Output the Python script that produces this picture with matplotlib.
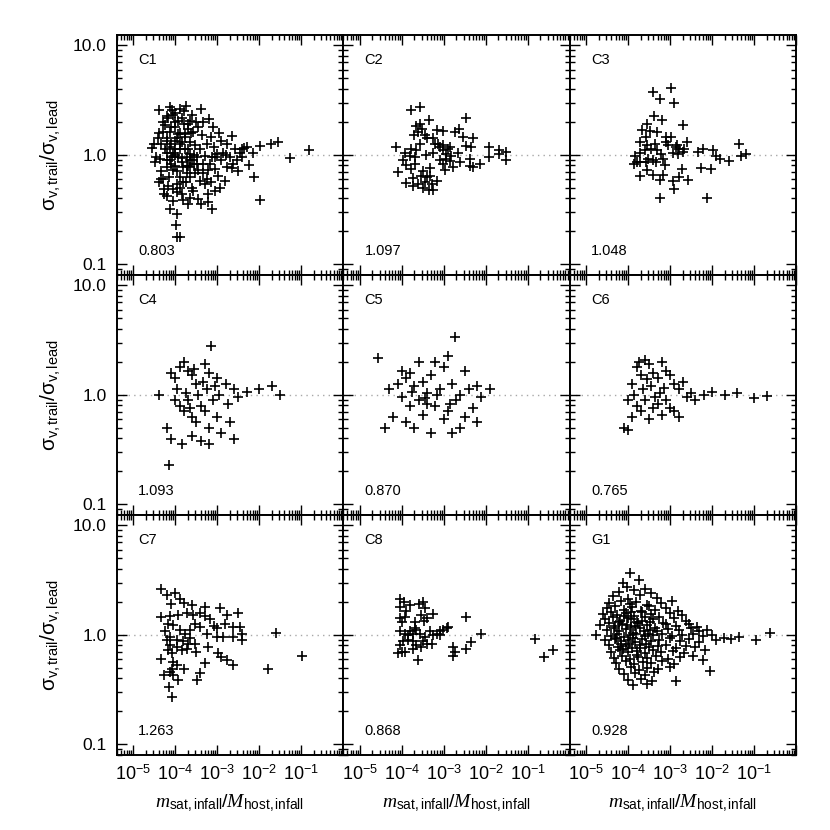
import numpy as np
import matplotlib.pyplot as plt
from matplotlib.ticker import FixedLocator, FixedFormatter, LogLocator, NullFormatter

# log10 values
c1_logx = [-4.38, -4.13, -4.06, -3.89, -3.75, -3.40, -3.20, -3.65, -4.25, -3.85, -3.71, -3.57, -3.37, -3.16,
           -2.66, -2.36, -2.14, -1.97, -1.73, -1.56, -1.26, -0.81, -2.24, -2.13, -1.97, -3.13, -3.21, -3.45,
           -3.81, -4.12, -3.95, -3.99, -3.95, -3.89, -4.56, -4.52, -4.41, -4.48, -4.37, -4.29, -4.33, -4.27,
           -4.27, -4.05, -3.97, -3.85, -3.57, -3.65, -3.29, -3.21, -3.05, -2.94, -2.82, -2.98, -3.05, -3.17,
           -3.33, -3.45, -3.65, -3.73, -3.81, -3.93, -4.05, -4.13, -4.21, -4.29, -4.13, -4.01, -3.93, -3.77,
           -3.65, -3.53, -3.41, -3.25, -3.09, -3.01, -2.86, -2.70, -2.54, -2.42, -2.46, -2.58, -2.78, -2.90,
           -3.13, -3.29, -3.49, -3.65, -3.77, -3.89, -4.01, -4.13, -4.21, -4.05, -3.89, -3.81, -3.97, -4.17,
           -3.65, -3.49, -3.33, -3.21, -2.90, -2.78, -2.62, -2.42, -2.30, -3.65, -3.73, -4.33, -4.21, -4.09,
           -4.01, -3.85, -3.73, -3.53, -3.41, -3.25, -3.89, -3.77, -4.17, -3.93, -4.09,
           -4.00, -3.85, -4.10, -3.95, -3.70, -3.60, -4.20, -3.80, -4.00, -3.55,
           -4.20, -4.00, -3.80, -3.60, -4.30, -4.10, -3.90, -3.70, -3.50, -4.40, -4.20, -4.00, -3.85,
           -3.62, -3.45, -4.45, -4.25, -4.10, -3.95, -3.70, -3.55, -4.35, -4.15, -3.90, -3.75, -3.60,
           -4.40, -4.20, -4.05, -3.70, -3.40, -3.15, -3.05, -3.35, -3.10, -2.95, -2.80, -2.65, -2.50]
c1_logy = [0.41, 0.44, 0.36, 0.42, 0.45, 0.42, 0.33, 0.31, 0.27, 0.34, 0.24, 0.21, 0.18, 0.16,
           0.17, 0.06, 0.02, 0.08, 0.10, 0.12, -0.03, 0.04, -0.09, -0.20, -0.41, -0.49, -0.43, -0.40,
           -0.41, -0.49, -0.54, -0.64, -0.75, -0.75, 0.06, 0.10, 0.15, -0.07, -0.04, -0.22, -0.22, -0.31,
           -0.36, -0.31, -0.34, -0.36, -0.33, -0.39, -0.27, -0.36, -0.33, -0.30, -0.24, -0.19, -0.13, -0.08,
           -0.17, -0.14, -0.20, -0.17, -0.11, -0.02, 0.02, 0.07, 0.13, 0.21, 0.21, 0.25, 0.19, 0.16,
           0.12, 0.09, 0.05, 0.10, 0.07, 0.01, 0.02, -0.02, -0.05, -0.02, 0.02, 0.05, 0.10, 0.13,
           -0.02, -0.01, -0.02, 0.01, 0.05, 0.10, 0.13, -0.05, -0.11, -0.14, -0.20, -0.25, -0.27, -0.28,
           -0.11, -0.08, -0.08, -0.14, -0.05, -0.11, -0.08, 0.05, 0.07, -0.05, -0.02, 0.10, 0.02, -0.02,
           -0.10, -0.07, -0.10, -0.17, -0.24, -0.22, 0.05, 0.19, 0.34, 0.31, 0.41,
           0.00, -0.03, 0.10, 0.15, 0.05, -0.05, -0.05, 0.28, 0.30, 0.00,
           0.35, 0.38, 0.40, 0.36, 0.30, 0.25, 0.20, 0.28, 0.30, 0.20, 0.15, 0.05, 0.12,
           0.20, 0.25, -0.02, 0.05, -0.08, -0.15, -0.10, -0.08, -0.15, -0.20, -0.30, -0.25, -0.30,
           -0.25, -0.38, -0.42, -0.45, -0.45, -0.25, -0.02, 0.30, 0.25, 0.20, 0.00, -0.12, -0.15]

c2_logx = [-4.14, -3.79, -3.56, -3.35, -2.46, -3.65, -3.56, -3.52, -3.61, -3.45, -3.71, -3.57, -3.41, -3.25,
           -3.17, -3.02, -2.74, -2.63, -2.54, -2.30, -2.46, -2.34, -1.93, -1.93, -1.67, -1.52, -1.51, -1.67,
           -2.14, -2.38, -2.38, -2.30, -2.62, -2.78, -2.98, -3.02, -2.86, -2.94, -3.02, -3.09, -3.13, -3.02,
           -2.90, -2.86, -2.66, -2.82, -3.21, -3.25, -3.43, -3.65, -3.77, -3.93, -3.81, -3.69, -3.97, -3.89,
           -3.77, -4.09, -3.69, -3.49, -3.53, -3.33, -3.41, -3.73, -3.89, -3.73, -3.61, -3.45, -3.49, -3.35,
           -3.25, -3.15, -3.32, -3.29, -3.08, -2.94]
c2_logy = [0.07, 0.41, 0.44, 0.32, 0.34, 0.26, 0.28, 0.24, 0.21, 0.18, 0.18, 0.10, 0.15, 0.15,
           0.23, 0.22, 0.21, 0.24, 0.16, 0.15, 0.08, 0.07, 0.07, -0.02, 0.04, 0.03, -0.05, 0.01,
           -0.08, -0.04, -0.10, -0.11, -0.07, -0.11, -0.14, -0.08, -0.06, 0.01, 0.04, 0.07, 0.10, 0.09,
           0.05, 0.07, 0.02, -0.01, 0.10, 0.02, 0.00, 0.04, 0.05, 0.02, -0.01, -0.02, -0.05, -0.09,
           -0.13, -0.16, -0.08, -0.15, -0.19, -0.12, -0.20, -0.21, -0.26, -0.28, -0.27, -0.25, -0.30, -0.32,
           -0.32, -0.24, -0.19, -0.27, -0.05, -0.04]

c3_logx = [-2.99, -3.41, -3.23, -2.91, -3.39, -3.20, -2.70, -3.55, -3.67, -3.48, -3.32, -3.57, -3.71, -3.11,
           -2.98, -3.11, -2.60, -3.55, -3.35, -3.06, -2.83, -2.66, -2.92, -2.82, -2.70, -2.34, -2.22, -1.97,
           -1.90, -1.82, -1.60, -1.35, -1.32, -1.20, -3.83, -3.71, -3.61, -3.45, -3.32, -3.21, -3.52, -3.41,
           -3.17, -3.79, -3.85, -3.73, -3.57, -3.33, -3.13, -3.56, -3.73, -3.40, -3.17, -3.25, -2.94, -2.80,
           -2.58, -2.72, -2.26, -2.02, -2.91, -3.23, -2.12, -2.86, -2.78]
c3_logy = [0.61, 0.57, 0.51, 0.47, 0.35, 0.32, 0.27, 0.28, 0.23, 0.22, 0.21, 0.16, 0.12, 0.16,
           0.16, 0.12, 0.12, 0.09, 0.10, 0.09, 0.09, 0.05, 0.02, 0.01, 0.03, 0.03, 0.05, 0.04,
           -0.01, -0.04, -0.06, 0.10, -0.01, 0.01, -0.01, 0.02, 0.04, 0.05, 0.04, 0.01, -0.04, -0.05,
           -0.04, -0.07, -0.08, -0.07, -0.07, -0.07, -0.09, -0.14, -0.19, -0.18, -0.18, -0.23, -0.24, -0.20,
           -0.23, -0.13, -0.12, -0.13, -0.31, -0.39, -0.39, 0.07, 0.05]

c4_logx = [-4.40, -4.10, -4.00, -3.90, -3.80, -3.70, -3.60, -3.50, -3.15, -3.30, -3.20, -3.00, -2.80, -2.60,
           -2.50, -2.30, -2.00, -1.70, -1.50, -4.00, -3.90, -3.80, -3.70, -3.60, -3.50, -3.40, -3.30, -3.20,
           -3.10, -3.00, -2.90, -2.70, -2.60, -4.20, -4.10, -4.15, -3.85, -3.60, -3.40, -3.20, -3.95, -3.75,
           -3.45, -3.25, -2.95, -2.75, -3.55, -3.35, -3.65, -3.05]
c4_logy = [0.00, 0.20, 0.15, 0.25, 0.30, 0.22, 0.18, 0.10, 0.45, 0.28, 0.20, 0.15, 0.10, 0.05,
           -0.02, 0.03, 0.05, 0.08, 0.00, -0.05, -0.10, -0.15, -0.05, -0.20, -0.25, -0.10, -0.15, -0.30,
           -0.05, -0.20, -0.35, -0.25, -0.40, -0.30, -0.40, -0.64, -0.45, -0.38, -0.42, -0.45, 0.05, 0.02,
           0.00, 0.05, 0.00, -0.08, 0.24, 0.12, -0.12, 0.08]

c5_logx = [-4.57, -2.73, -4.30, -4.10, -4.00, -3.90, -3.80, -3.70, -3.60, -3.50, -3.40, -3.30, -3.20, -3.10,
           -3.00, -2.90, -2.80, -2.70, -2.60, -2.50, -2.40, -2.30, -2.20, -2.10, -4.40, -4.20, -3.90, -3.70,
           -3.50, -3.30, -3.00, -2.80, -2.60, -3.60, -3.20, -2.90, -2.50, -4.00, -3.80, -3.40, -2.20, -1.90,
           -3.45, -3.15, -2.85, -3.75]
c5_logy = [0.34, 0.53, 0.05, 0.10, -0.02, 0.15, 0.20, 0.08, -0.05, 0.12, 0.02, 0.18, -0.10, 0.05,
           0.25, -0.15, 0.10, -0.05, 0.00, -0.20, 0.05, -0.12, 0.08, -0.02, -0.30, -0.20, -0.25, -0.30,
           -0.18, -0.35, -0.22, -0.35, -0.30, 0.30, 0.30, 0.35, 0.22, 0.22, -0.10, -0.08, -0.25, 0.05,
           -0.03, 0.00, -0.08, 0.03]

c6_logx = [-4.00, -3.90, -3.80, -3.75, -3.60, -3.50, -3.40, -3.30, -3.20, -3.10, -3.00, -2.90, -2.80, -2.70,
           -2.60, -2.50, -2.40, -2.20, -2.00, -1.70, -1.40, -1.00, -0.70, -4.10, -4.00, -3.90, -3.80, -3.70,
           -3.60, -3.50, -3.40, -3.30, -3.20, -3.10, -3.00, -2.90, -2.80, -3.65, -3.45, -3.25, -3.85,
           -3.55, -3.35, -3.15, -3.70]
c6_logy = [-0.05, 0.10, 0.25, 0.30, 0.32, 0.28, 0.20, 0.15, 0.30, 0.22, 0.18, 0.10, 0.05, 0.12,
           -0.02, 0.02, -0.05, 0.00, 0.03, 0.00, 0.02, -0.03, -0.01, -0.30, -0.32, -0.20, -0.10, -0.15,
           -0.05, -0.22, -0.12, -0.08, -0.18, -0.05, -0.12, -0.15, -0.20, 0.05, 0.08, 0.02, 0.00,
           0.14, -0.02, 0.06, 0.18]

c7_logx = [-4.33, -4.13, -3.93, -3.73, -3.57, -3.41, -3.29, -3.17, -2.94, -2.78, -2.50, -2.82, -3.09, -3.01,
           -2.62, -2.46, -2.42, -2.42, -2.62, -2.86, -3.01, -3.25, -3.41, -3.53, -3.65, -3.77, -3.89, -4.05,
           -4.17, -4.25, -4.13, -3.97, -3.81, -3.69, -3.85, -3.97, -4.13, -4.21, -4.33, -4.05, -3.95, -4.09,
           -4.13, -4.27, -4.06, -3.79, -3.93, -4.15, -4.07, -3.51, -3.29, -3.41, -3.49, -3.21, -2.98, -2.90,
           -2.78, -2.62, -1.78, -1.61, -0.99, -3.53, -3.65, -4.17, -4.09, -3.73,
           -4.35, -4.20, -4.00, -3.90, -3.80, -4.10, -3.60, -3.30]
c7_logy = [0.16, 0.17, 0.18, 0.20, 0.18, 0.20, 0.17, 0.14, 0.24, 0.18, 0.20, 0.10, 0.08, 0.06,
           0.07, 0.07, 0.01, -0.05, -0.02, -0.02, -0.02, 0.01, 0.07, 0.10, 0.04, 0.01, 0.04, 0.09,
           0.10, 0.03, -0.02, -0.05, -0.06, -0.08, -0.14, -0.11, -0.09, -0.05, -0.22, -0.25, -0.28, -0.31,
           -0.34, -0.37, -0.37, -0.31, -0.41, -0.48, -0.57, -0.16, -0.26, -0.35, -0.41, -0.11, -0.17, -0.20,
           -0.23, -0.28, -0.31, 0.02, -0.19, -0.08, -0.03, -0.14, -0.17, -0.13,
           0.42, 0.36, 0.38, 0.33, 0.29, 0.28, 0.27, 0.25]

c8_logx = [-4.04, -4.00, -3.93, -3.69, -3.53, -3.50, -3.47, -3.39, -3.25, -3.69, -4.04, -3.93, -3.85, -3.81,
           -3.73, -3.65, -3.57, -3.45, -3.33, -3.17, -3.09, -3.01, -2.89, -2.93, -3.09, -3.29, -3.41, -3.53,
           -3.65, -3.73, -3.85, -3.97, -4.04, -4.08, -4.00, -3.93, -3.73, -3.61, -3.49, -3.25, -2.77, -2.73,
           -2.77, -2.46, -2.34, -2.46, -2.12, -0.83, -0.61, -0.39,
           -4.05, -3.95, -4.05, -3.80, -3.60, -3.45, -3.90]
c8_logy = [0.15, 0.12, 0.16, 0.12, 0.18, 0.30, 0.13, 0.15, 0.19, 0.06, 0.03, 0.01, 0.00, 0.03,
           0.01, 0.04, 0.01, -0.02, 0.03, 0.01, 0.03, 0.04, 0.07, 0.06, 0.00, -0.08, -0.08, -0.11,
           -0.09, -0.06, -0.05, -0.06, -0.09, -0.17, -0.16, -0.16, -0.13, -0.23, -0.06, 0.00, -0.11, -0.16,
           -0.19, -0.13, -0.07, 0.16, 0.01, -0.04, -0.20, -0.14,
           0.33, 0.30, 0.25, 0.27, 0.28, 0.24, 0.22]

g1_pts = [(-3.95, 0.56), (-3.74, 0.50), (-4.12, 0.47), (-4.03, 0.44), (-3.61, 0.42),
          (-4.21, 0.39), (-3.86, 0.41), (-3.46, 0.38),
          (-4.36, 0.35), (-4.01, 0.33), (-3.71, 0.36), (-3.31, 0.34),
          (-4.46, 0.29), (-4.16, 0.31), (-3.96, 0.28), (-3.81, 0.30), (-3.56, 0.27), (-3.21, 0.29), (-2.96, 0.31),
          (-4.51, 0.24), (-4.31, 0.26), (-4.11, 0.23), (-3.91, 0.25), (-3.69, 0.22), (-3.51, 0.26), (-3.36, 0.23),
          (-3.11, 0.24), (-2.81, 0.22),
          (-4.61, 0.19), (-4.41, 0.21), (-4.26, 0.18), (-4.06, 0.20), (-3.86, 0.17), (-3.66, 0.21), (-3.46, 0.19),
          (-3.26, 0.16), (-3.01, 0.20), (-2.71, 0.18),
          (-4.56, 0.14), (-4.36, 0.16), (-4.19, 0.13), (-4.01, 0.15), (-3.79, 0.12), (-3.61, 0.16), (-3.41, 0.14),
          (-3.16, 0.11), (-2.91, 0.15), (-2.61, 0.13),
          (-4.66, 0.09), (-4.46, 0.11), (-4.31, 0.08), (-4.14, 0.10), (-3.94, 0.07), (-3.76, 0.11), (-3.56, 0.09),
          (-3.36, 0.06), (-3.09, 0.10), (-2.86, 0.08), (-2.56, 0.10), (-2.36, 0.07),
          (-4.51, 0.04), (-4.34, 0.06), (-4.21, 0.03), (-4.06, 0.05), (-3.89, 0.02), (-3.71, 0.06), (-3.49, 0.04),
          (-3.31, 0.03), (-3.06, 0.05), (-2.79, 0.04), (-2.51, 0.06), (-2.31, 0.03), (-2.11, 0.04),
          (-4.76, 0.00), (-4.41, -0.01), (-4.26, 0.01), (-4.11, -0.02), (-3.96, 0.00), (-3.81, 0.01), (-3.61, -0.01),
          (-3.41, 0.00), (-3.19, 0.01), (-2.96, -0.01), (-2.71, 0.00), (-2.46, 0.01), (-2.21, -0.01), (-2.01, 0.00),
          (-1.71, -0.03), (-1.36, -0.02), (-0.95, -0.05), (-0.62, 0.02),
          (-4.56, -0.05), (-4.31, -0.04), (-4.16, -0.06), (-4.01, -0.05), (-3.84, -0.07), (-3.66, -0.04),
          (-3.46, -0.06), (-3.26, -0.05), (-3.01, -0.03), (-2.76, -0.06), (-2.56, -0.04), (-2.31, -0.07),
          (-1.91, -0.05), (-1.56, -0.04),
          (-4.46, -0.09), (-4.24, -0.11), (-4.06, -0.10), (-3.91, -0.12), (-3.71, -0.09), (-3.51, -0.11),
          (-3.29, -0.10), (-3.11, -0.09), (-2.86, -0.12), (-2.61, -0.10), (-2.41, -0.11), (-2.16, -0.14),
          (-4.41, -0.16), (-4.19, -0.14), (-4.01, -0.16), (-3.79, -0.15), (-3.59, -0.17), (-3.41, -0.14),
          (-3.21, -0.16), (-2.94, -0.15), (-2.66, -0.17), (-2.46, -0.19),
          (-4.34, -0.21), (-4.14, -0.19), (-3.96, -0.22), (-3.76, -0.20), (-3.54, -0.21), (-3.34, -0.19),
          (-3.06, -0.22), (-2.76, -0.20), (-2.21, -0.23),
          (-4.29, -0.26), (-4.06, -0.24), (-3.86, -0.27), (-3.64, -0.25), (-3.46, -0.26), (-3.19, -0.24),
          (-2.91, -0.27),
          (-4.21, -0.31), (-3.94, -0.29), (-3.74, -0.32), (-3.56, -0.30), (-3.29, -0.31), (-3.01, -0.29),
          (-2.06, -0.33),
          (-4.09, -0.36), (-3.84, -0.35), (-3.61, -0.37), (-3.39, -0.34),
          (-4.01, -0.41), (-3.69, -0.40), (-3.44, -0.42), (-2.86, -0.42),
          (-3.89, -0.46), (-3.56, -0.45),
          (-4.23, 0.12), (-4.09, 0.17), (-3.93, 0.14), (-3.83, 0.08), (-3.68, 0.13), (-3.53, 0.01),
          (-3.98, -0.08), (-3.88, -0.03), (-4.18, -0.08), (-3.73, -0.12), (-3.63, 0.03), (-4.03, 0.09),
          (-3.78, -0.18), (-4.13, -0.13), (-3.58, -0.08), (-3.93, 0.21), (-4.28, -0.03), (-3.48, 0.12)]
g1_logx = [p[0] for p in g1_pts]
g1_logy = [p[1] for p in g1_pts]

names = ['C1', 'C2', 'C3', 'C4', 'C5', 'C6', 'C7', 'C8', 'G1']
ratios = ['0.803', '1.097', '1.048', '1.093', '0.870', '0.765', '1.263', '0.868', '0.928']
all_logx = [c1_logx, c2_logx, c3_logx, c4_logx, c5_logx, c6_logx, c7_logx, c8_logx, g1_logx]
all_logy = [c1_logy, c2_logy, c3_logy, c4_logy, c5_logy, c6_logy, c7_logy, c8_logy, g1_logy]

xticks = [1e-5, 1e-4, 1e-3, 1e-2, 1e-1, 1e0]
xticklabels = ['$10^{-5}$', '$10^{-4}$', '$10^{-3}$', '$10^{-2}$', '$10^{-1}$', '']
yticks = [0.1, 1.0, 10.0]
yticklabels = ['0.1', '1.0', '10.0']

plt.rcParams['font.family'] = 'Liberation Sans'
plt.rcParams['mathtext.fontset'] = 'custom'
plt.rcParams['mathtext.rm'] = 'Liberation Sans'
plt.rcParams['mathtext.it'] = 'Liberation Serif:italic'
plt.rcParams['mathtext.bf'] = 'Liberation Sans:bold'

fig, axes = plt.subplots(3, 3, figsize=(8.3, 8.3), dpi=100, sharex=True, sharey=True)
fig.subplots_adjust(left=0.1406, right=0.959, top=0.9578, bottom=0.0904, wspace=0, hspace=0)

for i, ax in enumerate(axes.flat):
    ax.set_xscale('log')
    ax.set_yscale('log')
    ax.axhline(1.0, color='#a8a8a8', ls=(0, (1, 3)), lw=1.0, zorder=1)
    ax.plot(10 ** np.array(all_logx[i]), 10 ** np.array(all_logy[i]), '+', color='black',
            ms=7, mew=1.2, zorder=3)
    ax.set_xlim(4e-6, 1.0)
    ax.set_ylim(0.08, 12.4)

    ax.xaxis.set_major_locator(FixedLocator(xticks))
    ax.xaxis.set_major_formatter(FixedFormatter(xticklabels))
    ax.xaxis.set_minor_locator(LogLocator(base=10, subs=np.arange(2, 10), numticks=20))
    ax.xaxis.set_minor_formatter(NullFormatter())
    ax.yaxis.set_major_locator(FixedLocator(yticks))
    ax.yaxis.set_major_formatter(FixedFormatter(yticklabels))
    ax.yaxis.set_minor_locator(LogLocator(base=10, subs=np.arange(2, 10), numticks=20))
    ax.yaxis.set_minor_formatter(NullFormatter())

    ax.tick_params(which='both', direction='in', top=True, right=True, width=1.0)
    ax.tick_params(which='major', length=7)
    ax.tick_params(which='minor', length=3.5)
    ax.tick_params(axis='x', labelsize=13, pad=7)
    ax.tick_params(axis='y', labelsize=12.5, pad=7)
    for sp in ax.spines.values():
        sp.set_linewidth(1.4)

    ax.text(0.095, 0.895, names[i], transform=ax.transAxes, fontsize=10.5, va='center', ha='left')
    ax.text(0.095, 0.10, ratios[i], transform=ax.transAxes, fontsize=10.5, va='center', ha='left')

    if i >= 6:
        ax.set_xlabel(r'$m_{\rm sat,infall}/M_{\rm host,infall}$', fontsize=14, labelpad=6)
    if i % 3 == 0:
        ax.set_ylabel(r'$\mathrm{\sigma}_{\rm v,trail}/\mathrm{\sigma}_{\rm v,lead}$', fontsize=15, labelpad=8)

fig.savefig('out.png', dpi=100)
